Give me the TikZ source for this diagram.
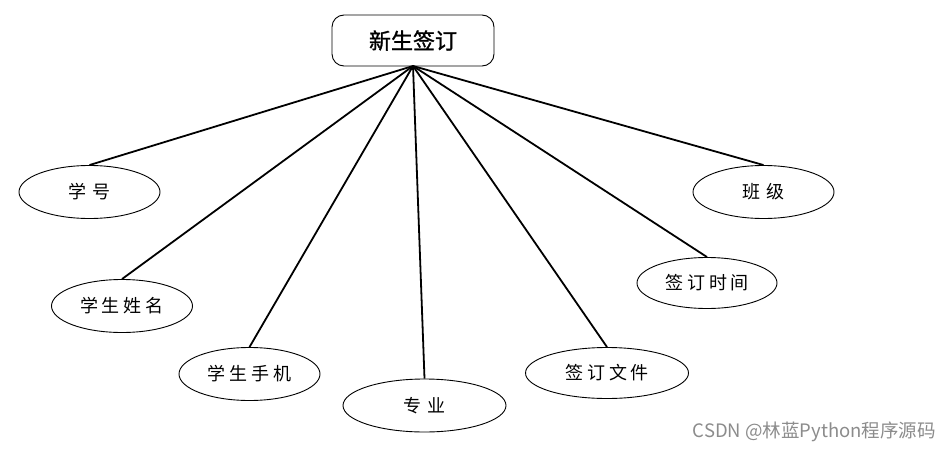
\documentclass[tikz,border=0pt]{standalone}
\usepackage{fontspec}
\usetikzlibrary{shapes.geometric}
\newfontfamily\cjk{Noto Sans CJK SC}
\newfontfamily\cjkmed[FakeBold=1.2]{Noto Sans CJK SC}
\begin{document}
\begin{tikzpicture}[x=1pt,y=-1pt,
  attr/.style={draw=black,line width=0.9pt,ellipse,minimum width=#1,minimum height=53pt,inner sep=0pt,font=\cjk\fontsize{18}{18}\selectfont},
  attr/.default=141pt,
  entity/.style={draw=black,line width=0.9pt,rounded corners=12pt,minimum width=162pt,minimum height=51pt,inner sep=0pt,font=\cjkmed\fontsize{22}{22}\selectfont},
  link/.style={line width=1.8pt}]
\useasboundingbox[fill=white] (0,0) rectangle (952,452);
\node[entity] (e) at (413,40.5) {新生签订};
\coordinate (o) at (413,66);
\node[attr] (a1) at (89.5,192) {学\hspace{6pt}号};
\node[attr] (a2) at (122,306) {学\hspace{4pt}生\hspace{4pt}姓\hspace{4pt}名};
\node[attr] (a3) at (249.5,374) {学\hspace{4pt}生\hspace{4pt}手\hspace{4pt}机};
\node[attr=163pt] (a4) at (424.5,405.5) {专\hspace{6pt}业};
\node[attr=163pt,minimum height=51pt] (a5) at (607,373) {签\hspace{4pt}订\hspace{4pt}文\hspace{4pt}件};
\node[attr=140pt,minimum height=51pt] (a6) at (707,283) {签\hspace{4pt}订\hspace{4pt}时\hspace{4pt}间};
\node[attr] (a7) at (763.5,192) {班\hspace{6pt}级};
\foreach \n in {a1,a2,a3,a4,a5,a6,a7} \draw[link] (o) -- (\n.north);
\node[anchor=east,text=black!45,font=\cjk\fontsize{18.5}{18.5}\selectfont,inner sep=0pt] (wm) at (936,432) {CSDN @林蓝Python程序源码};
\end{tikzpicture}
\end{document}
